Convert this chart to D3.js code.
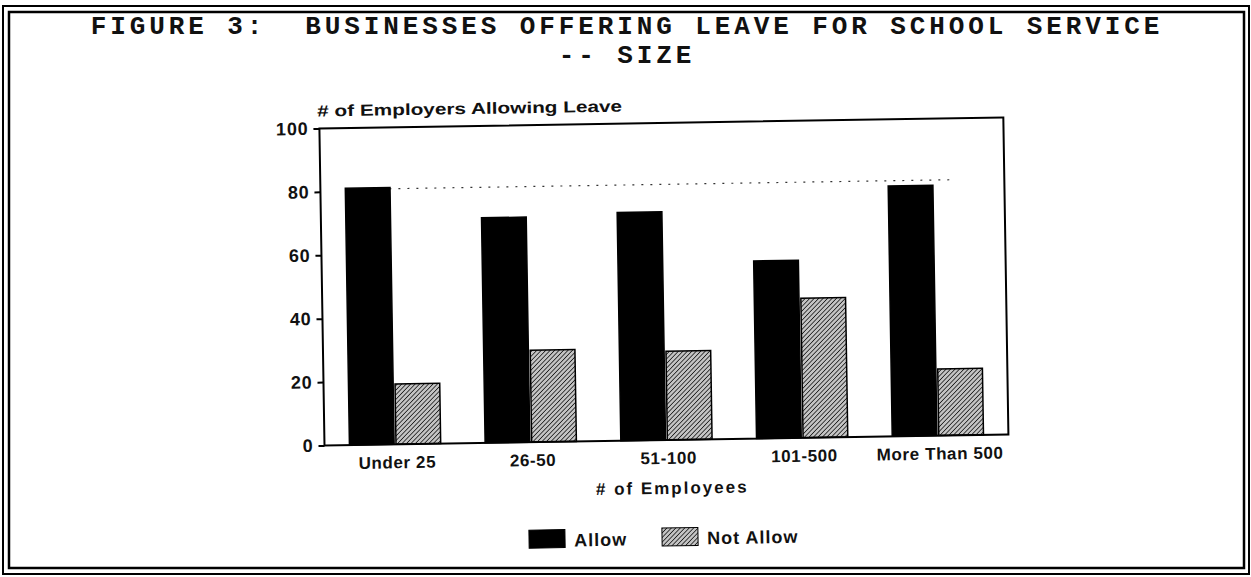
<!DOCTYPE html>
<html>
<head>
<meta charset="utf-8">
<script src="https://cdn.jsdelivr.net/npm/d3@7"></script>
<style>
  body { margin: 0; background: #fff; }
  svg { display: block; }
  text { font-family: "Liberation Sans", Arial, sans-serif; font-weight: bold; fill: #111; }
  .title { font-family: "Liberation Mono", "Courier New", monospace; font-size: 26px; letter-spacing: 3.9px; white-space: pre; }
</style>
</head>
<body>
<svg id="viz"></svg>
<script>
const categories = ['Under 25', '26-50', '51-100', '101-500', 'More Than 500'];
const seriesNames = ['Allow', 'Not Allow'];
const allowValues = [81, 71, 72, 56, 79];
const notAllowValues = [19, 29, 28, 44, 21];
const yTicks = [0, 20, 40, 60, 80, 100];
const titleLines = ['FIGURE 3:  BUSINESSES OFFERING LEAVE FOR SCHOOL SERVICE', '-- SIZE'];
const yTitle = '# of Employers Allowing Leave';
const xTitle = '# of Employees';

const W = 1251, H = 577;
const plot = { left: 322, right: 1006, top: 123, bottom: 440 };

const svg = d3.select('#viz').attr('width', W).attr('height', H);

// pattern for the "Not Allow" bars
const defs = svg.append('defs');
const pat = defs.append('pattern')
  .attr('id', 'hatch')
  .attr('patternUnits', 'userSpaceOnUse')
  .attr('width', 3.2).attr('height', 3.2)
  .attr('patternTransform', 'rotate(45)');
pat.append('rect').attr('width', 3.2).attr('height', 3.2).attr('fill', '#c4c4c4');
pat.append('line').attr('x1', 0).attr('y1', 0).attr('x2', 0).attr('y2', 3.2)
  .attr('stroke', '#111').attr('stroke-width', 1.5);

const fills = { 'Allow': '#000', 'Not Allow': 'url(#hatch)' };

// BORDER
svg.append('rect').attr('x', 3).attr('y', 6).attr('width', W - 5).attr('height', H - 9)
  .attr('fill', 'none').attr('stroke', '#000').attr('stroke-width', 2);
svg.append('rect').attr('x', 9).attr('y', 12).attr('width', W - 16).attr('height', H - 21)
  .attr('fill', 'none').attr('stroke', '#000').attr('stroke-width', 2.5);

// TITLE
svg.selectAll('.title')
  .data(titleLines)
  .enter()
  .append('text')
  .attr('class', 'title')
  .attr('x', 627)
  .attr('y', (d, i) => 34 + i * 29)
  .attr('text-anchor', 'middle')
  .text((d) => d);

// chart group, slightly tilted like the scan
const g = svg.append('g').attr('transform', 'rotate(-0.92, 662, 287)');

// SCALES
const x = d3.scaleBand().domain(categories).range([plot.left, plot.right])
  .paddingInner(0.3).paddingOuter(0.17);
const xs = d3.scaleBand().domain(seriesNames).range([0, x.bandwidth()]).padding(0.04);
const y = d3.scaleLinear().domain([0, 100]).range([plot.bottom, plot.top]);

// faint dotted line near 80
g.append('line')
  .attr('x1', plot.left + 60).attr('x2', plot.right - 50)
  .attr('y1', y(80) - 2).attr('y2', y(80) - 2)
  .attr('stroke', '#333').attr('stroke-width', 1.2)
  .attr('stroke-dasharray', '2 7');

// BARS
const rows = categories.map((c, i) => ({ cat: c, vals: [
  { s: 'Allow', v: allowValues[i] },
  { s: 'Not Allow', v: notAllowValues[i] }
] }));

g.append('g')
  .selectAll('g')
  .data(rows)
  .enter()
  .append('g')
  .attr('transform', (d) => 'translate(' + x(d.cat) + ',0)')
  .selectAll('rect')
  .data((d) => d.vals)
  .enter()
  .append('rect')
  .attr('x', (d) => xs(d.s))
  .attr('y', (d) => y(d.v))
  .attr('width', xs.bandwidth())
  .attr('height', (d) => y(0) - y(d.v))
  .attr('fill', (d) => fills[d.s])
  .attr('stroke', '#000')
  .attr('stroke-width', 1.5);

// FRAME
g.append('rect')
  .attr('x', plot.left).attr('y', plot.top)
  .attr('width', plot.right - plot.left).attr('height', plot.bottom - plot.top)
  .attr('fill', 'none').attr('stroke', '#000').attr('stroke-width', 2);

// Y AXIS
const yAxis = g.append('g')
  .attr('transform', 'translate(' + plot.left + ',0)')
  .call(d3.axisLeft(y).tickValues(yTicks).tickSize(6).tickPadding(5));
yAxis.select('.domain').remove();
yAxis.selectAll('line').attr('stroke', '#000').attr('stroke-width', 2);
yAxis.selectAll('text')
  .style('font-family', '"Liberation Sans", Arial, sans-serif')
  .style('font-weight', 'bold')
  .style('font-size', '18px')
  .style('letter-spacing', '0.8px')
  .attr('fill', '#111');

// X LABELS
g.append('g')
  .selectAll('text')
  .data(categories)
  .enter()
  .append('text')
  .attr('x', (d) => x(d) + x.bandwidth() / 2 + 2)
  .attr('y', 464)
  .attr('text-anchor', 'middle')
  .style('font-size', '17px')
  .style('letter-spacing', '0.6px')
  .text((d) => d);

// AXIS TITLES
g.append('text')
  .attr('x', plot.left - 2)
  .attr('y', 111)
  .style('font-size', '16px')
  .attr('textLength', 305)
  .attr('lengthAdjust', 'spacingAndGlyphs')
  .text(yTitle);

g.append('text')
  .attr('x', 669)
  .attr('y', 494)
  .attr('text-anchor', 'middle')
  .style('font-size', '17px')
  .style('letter-spacing', '2px')
  .text(xTitle);

// LEGEND
const legendX = [525, 658];
const legend = g.append('g')
  .selectAll('g')
  .data(seriesNames)
  .enter()
  .append('g')
  .attr('transform', (d, i) => 'translate(' + legendX[i] + ',528)');
legend.append('rect')
  .attr('width', 36).attr('height', 18)
  .attr('fill', (d) => fills[d])
  .attr('stroke', '#000').attr('stroke-width', 1);
legend.append('text')
  .attr('x', 45).attr('y', 17)
  .style('font-size', '18px')
  .style('letter-spacing', '1px')
  .text((d) => d);
</script>
</body>
</html>
